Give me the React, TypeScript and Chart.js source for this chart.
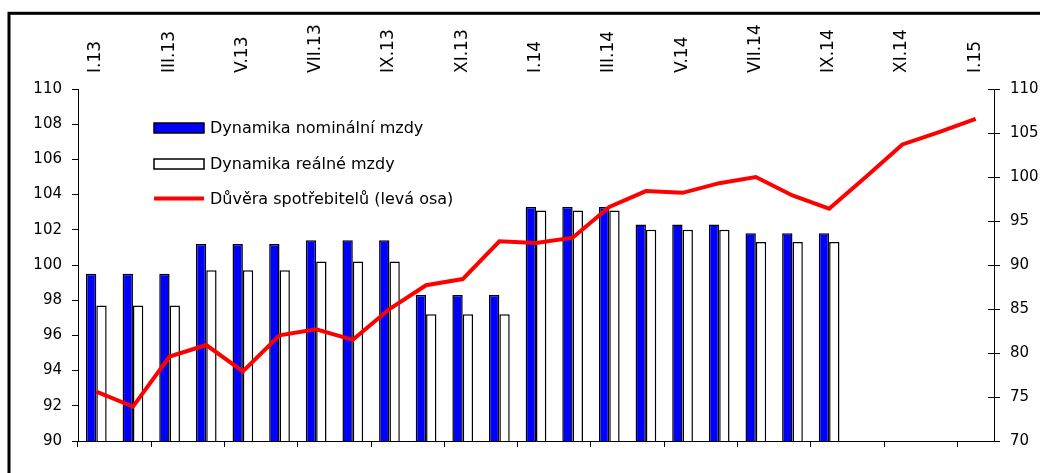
import React, { useEffect, useRef } from "react";
import { Chart, registerables } from "chart.js";

Chart.register(...registerables);

const months = [
  "I.13", "II.13", "III.13", "IV.13", "V.13", "VI.13", "VII.13", "VIII.13", "IX.13", "X.13", "XI.13", "XII.13",
  "I.14", "II.14", "III.14", "IV.14", "V.14", "VI.14", "VII.14", "VIII.14", "IX.14", "X.14", "XI.14", "XII.14",
  "I.15",
];

const topLabels = [
  "I.13", "", "III.13", "", "V.13", "", "VII.13", "", "IX.13", "", "XI.13", "",
  "I.14", "", "III.14", "", "V.14", "", "VII.14", "", "IX.14", "", "XI.14", "",
  "I.15",
];

const nominal = [
  99.5, 99.5, 99.5, 101.2, 101.2, 101.2, 101.4, 101.4, 101.4, 98.3, 98.3, 98.3,
  103.3, 103.3, 103.3, 102.3, 102.3, 102.3, 101.8, 101.8, 101.8, null, null, null, null,
];

const real = [
  97.7, 97.7, 97.7, 99.7, 99.7, 99.7, 100.2, 100.2, 100.2, 97.2, 97.2, 97.2,
  103.1, 103.1, 103.1, 102.0, 102.0, 102.0, 101.3, 101.3, 101.3, null, null, null, null,
];

const confidence = [
  75.6, 73.9, 79.6, 80.9, 77.9, 82.0, 82.7, 81.5, 85.0, 87.7, 88.4, 92.7,
  92.5, 93.1, 96.6, 98.4, 98.2, 99.3, 100.0, 97.9, 96.4, 100.0, 103.7, 105.1, 106.6,
];

const FONT = "'DejaVu Sans', 'Liberation Sans', Arial, sans-serif";

const framePlugin = {
  id: "frame",
  beforeDraw(chart: any) {
    const ctx = chart.ctx;
    ctx.save();
    ctx.fillStyle = "#ffffff";
    ctx.fillRect(0, 0, chart.width, chart.height);
    ctx.strokeStyle = "#000000";
    ctx.lineWidth = 3;
    ctx.strokeRect(9, 13.3, chart.width + 100, chart.height + 100);
    ctx.restore();
  },
};

const innerTickPlugin = {
  id: "innerTicks",
  afterDraw(chart: any) {
    const scale = chart.scales.y2;
    const ctx = chart.ctx;
    ctx.save();
    ctx.strokeStyle = "#000000";
    ctx.lineWidth = 1;
    scale.ticks.forEach((_t: any, i: number) => {
      const y = Math.round(scale.getPixelForTick(i)) + 0.5;
      ctx.beginPath();
      ctx.moveTo(scale.left - 6, y);
      ctx.lineTo(scale.left, y);
      ctx.stroke();
    });
    ctx.restore();
  },
};

const legendPlugin = {
  id: "innerLegend",
  afterDraw(chart: any) {
    const ctx = chart.ctx;
    const ds = chart.data.datasets;
    const items = [ds[1], ds[2], ds[0]];
    const rowsY = [128, 164, 198.5];
    const x0 = 154;
    const boxW = 50;
    const boxH = 10;
    ctx.save();
    ctx.font = "16px " + FONT;
    ctx.textBaseline = "middle";
    ctx.textAlign = "left";
    items.forEach((d: any, i: number) => {
      const y = rowsY[i];
      if (d.type === "line") {
        ctx.strokeStyle = d.borderColor;
        ctx.lineWidth = 4;
        ctx.beginPath();
        ctx.moveTo(x0, y);
        ctx.lineTo(x0 + boxW, y);
        ctx.stroke();
      } else {
        ctx.fillStyle = d.backgroundColor;
        ctx.fillRect(x0, y - boxH / 2, boxW, boxH);
        ctx.strokeStyle = "#000000";
        ctx.lineWidth = 1.5;
        ctx.strokeRect(x0, y - boxH / 2, boxW, boxH);
      }
      ctx.fillStyle = "#000000";
      ctx.fillText(d.label, x0 + boxW + 6, y + 1);
    });
    ctx.restore();
  },
};

export default function App() {
  const canvasRef = useRef<HTMLCanvasElement | null>(null);

  useEffect(() => {
    if (!canvasRef.current) return;
    const chart = new Chart(canvasRef.current, {
      type: "bar",
      data: {
        labels: months,
        datasets: [
          {
            type: "line",
            label: "Důvěra spotřebitelů (levá osa)",
            data: confidence,
            borderColor: "#ff0000",
            backgroundColor: "#ff0000",
            borderWidth: 4,
            pointRadius: 0,
            tension: 0,
            yAxisID: "y2",
            xAxisID: "x",
            order: 0,
          } as any,
          {
            type: "bar",
            label: "Dynamika nominální mzdy",
            data: nominal,
            backgroundColor: "#0000ff",
            borderColor: "#000000",
            borderWidth: 1.5,
            yAxisID: "y",
            xAxisID: "x",
            categoryPercentage: 0.565,
            barPercentage: 1.0,
            order: 1,
          },
          {
            type: "bar",
            label: "Dynamika reálné mzdy",
            data: real,
            backgroundColor: "#ffffff",
            borderColor: "#000000",
            borderWidth: 1.5,
            yAxisID: "y",
            xAxisID: "x",
            categoryPercentage: 0.565,
            barPercentage: 1.0,
            order: 2,
          },
        ],
      },
      options: {
        animation: false,
        responsive: false,
        maintainAspectRatio: false,
        layout: { padding: 0 },
        plugins: {
          legend: { display: false },
          tooltip: { enabled: false },
        },
        scales: {
          x: {
            type: "category",
            position: "bottom",
            offset: true,
            grid: {
              offset: true,
              drawOnChartArea: false,
              drawTicks: true,
              tickLength: 6,
              tickColor: (c: any) => (c.index % 2 === 0 ? "#000000" : "rgba(0,0,0,0)"),
            },
            border: { display: true, color: "#000000", width: 1 },
            ticks: { display: false },
            afterFit: (s: any) => {
              s.height = 32;
            },
          },
          x2: {
            type: "category",
            position: "top",
            labels: topLabels,
            offset: true,
            grid: { display: false, drawTicks: false },
            border: { display: false },
            ticks: {
              autoSkip: false,
              minRotation: 90,
              maxRotation: 90,
              padding: 16,
              labelOffset: 20,
              color: "#000000",
              font: { family: FONT, size: 17 },
            },
            afterFit: (s: any) => {
              s.height = 89;
            },
          },
          y: {
            type: "linear",
            position: "left",
            min: 90,
            max: 110,
            ticks: {
              stepSize: 2,
              padding: 10,
              color: "#000000",
              font: { family: FONT, size: 15 },
            },
            grid: {
              drawOnChartArea: false,
              tickLength: 6,
              tickColor: "#000000",
            },
            border: { display: true, color: "#000000", width: 1 },
            afterFit: (s: any) => {
              s.width = 78;
            },
          },
          y2: {
            type: "linear",
            position: "right",
            min: 70,
            max: 110,
            ticks: {
              stepSize: 5,
              padding: 10,
              color: "#000000",
              font: { family: FONT, size: 15 },
            },
            grid: {
              drawOnChartArea: false,
              tickLength: 6,
              tickColor: "#000000",
            },
            border: { display: true, color: "#000000", width: 1 },
            afterFit: (s: any) => {
              s.width = 46;
            },
          },
        },
      },
      plugins: [framePlugin, innerTickPlugin, legendPlugin],
    });
    return () => chart.destroy();
  }, []);

  return (
    <div style={{ position: "fixed", left: 0, top: 0, width: 1040, height: 473, background: "#fff" }}>
      <canvas ref={canvasRef} width={1040} height={473} style={{ display: "block" }} />
    </div>
  );
}
